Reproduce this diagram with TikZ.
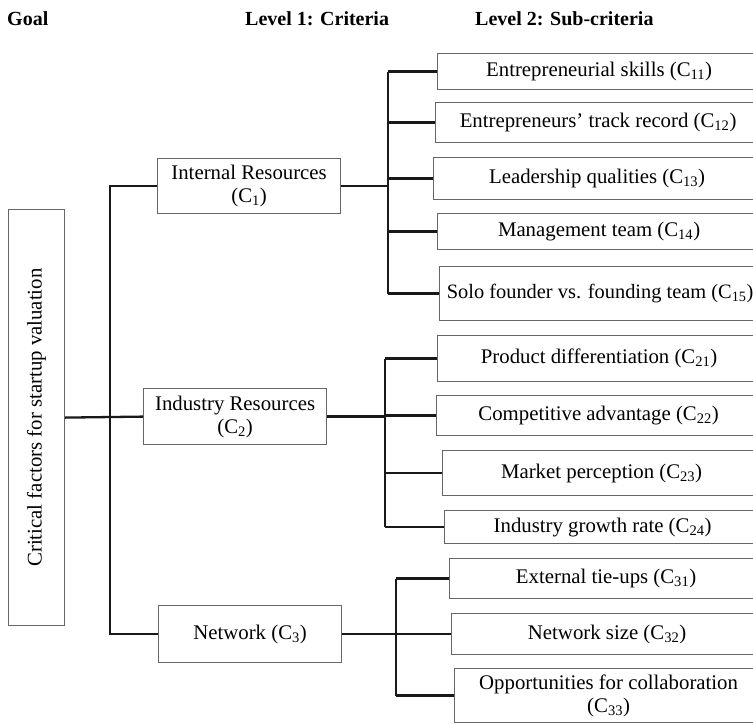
\documentclass[tikz,border=0pt]{standalone}
\usepackage{fontspec}
\usepackage{graphicx}
\setmainfont{Liberation Serif}
\begin{document}
\begin{tikzpicture}[x=1pt,y=-1pt,
  box/.style={draw=black!60, line width=1.2pt, fill=white, align=center,
    inner sep=0pt, anchor=north west, font=\fontsize{20.8}{23}\selectfont},
  link/.style={line width=2.3pt, draw=black!90},
  head/.style={font=\bfseries\fontsize{20}{22}\selectfont, anchor=base west, inner sep=0pt}]
\useasboundingbox (0,0) rectangle (753,724);

% column headings
\node[head] (hgoal) at (7,25) {Goal};
\node[head] (hlev1) at (245,25) {Level 1: Criteria};
\node[head] (hlev2) at (475,25) {Level 2: Sub-criteria};

% goal
\node[box, minimum width=56pt, minimum height=416pt] (goal) at (8,209)
  {\rotatebox{90}{Critical factors for startup valuation}};

% level 1 criteria
\node[box, minimum width=183pt, minimum height=55pt] (c1) at (157,158)
  {Internal Resources\\(C\textsubscript{1})};
\node[box, minimum width=183pt, minimum height=56pt] (c2) at (143,388)
  {Industry Resources\\(C\textsubscript{2})};
\node[box, minimum width=183pt, minimum height=57pt] (c3) at (158,605)
  {Network (C\textsubscript{3})};

% level 2 sub-criteria
\node[box, minimum width=323pt, minimum height=36pt] (c11) at (437,53)
  {Entrepreneurial skills (C\textsubscript{11})};
\node[box, minimum width=325pt, minimum height=40pt] (c12) at (435,102)
  {Entrepreneurs' track record (C\textsubscript{12})};
\node[box, minimum width=327pt, minimum height=42pt] (c13) at (433,157)
  {Leadership qualities (C\textsubscript{13})};
\node[box, minimum width=323pt, minimum height=36pt] (c14) at (437,213)
  {Management team (C\textsubscript{14})};
\node[box, minimum width=321pt, minimum height=54pt, font=\fontsize{20.4}{23}\selectfont] (c15) at (439,266)
  {Solo founder vs. founding team (C\textsubscript{15})};

\node[box, minimum width=323pt, minimum height=46pt] (c21) at (437,335)
  {Product differentiation (C\textsubscript{21})};
\node[box, minimum width=324pt, minimum height=40pt] (c22) at (436,395)
  {Competitive advantage (C\textsubscript{22})};
\node[box, minimum width=318pt, minimum height=45pt] (c23) at (442,450)
  {Market perception (C\textsubscript{23})};
\node[box, minimum width=316pt, minimum height=33pt] (c24) at (444,510)
  {Industry growth rate (C\textsubscript{24})};

\node[box, minimum width=313pt, minimum height=40pt] (c31) at (449,558)
  {External tie-ups (C\textsubscript{31})};
\node[box, minimum width=311pt, minimum height=41pt] (c32) at (451,613)
  {Network size (C\textsubscript{32})};
\node[box, minimum width=308pt, minimum height=54pt] (c33) at (454,668)
  {Opportunities for collaboration\\(C\textsubscript{33})};

% junction columns
\coordinate (j0) at (110,0);
\coordinate (j1) at (388,0);
\coordinate (j2) at (385,0);
\coordinate (j3) at (396,0);

% goal to criteria
\draw[link] (goal.east) -- (c2.west);
\draw[link] (c1.west) -- (c1.west -| j0) -- (c3.west -| j0) -- (c3.west);

% criteria to sub-criteria
\draw[link] (c1.east) -- (c1.east -| j1);
\draw[link] (c11.west -| j1) -- (c15.west -| j1);
\foreach \n in {c11,c12,c13,c14,c15} \draw[link] (\n.west -| j1) -- (\n.west);

\draw[link] (c2.east) -- (c2.east -| j2);
\draw[link] (c21.west -| j2) -- (c24.west -| j2);
\foreach \n in {c21,c22,c23,c24} \draw[link] (\n.west -| j2) -- (\n.west);

\draw[link] (c3.east) -- (c3.east -| j3);
\draw[link] (c31.west -| j3) -- (c33.west -| j3);
\foreach \n in {c31,c32,c33} \draw[link] (\n.west -| j3) -- (\n.west);
\end{tikzpicture}
\end{document}
